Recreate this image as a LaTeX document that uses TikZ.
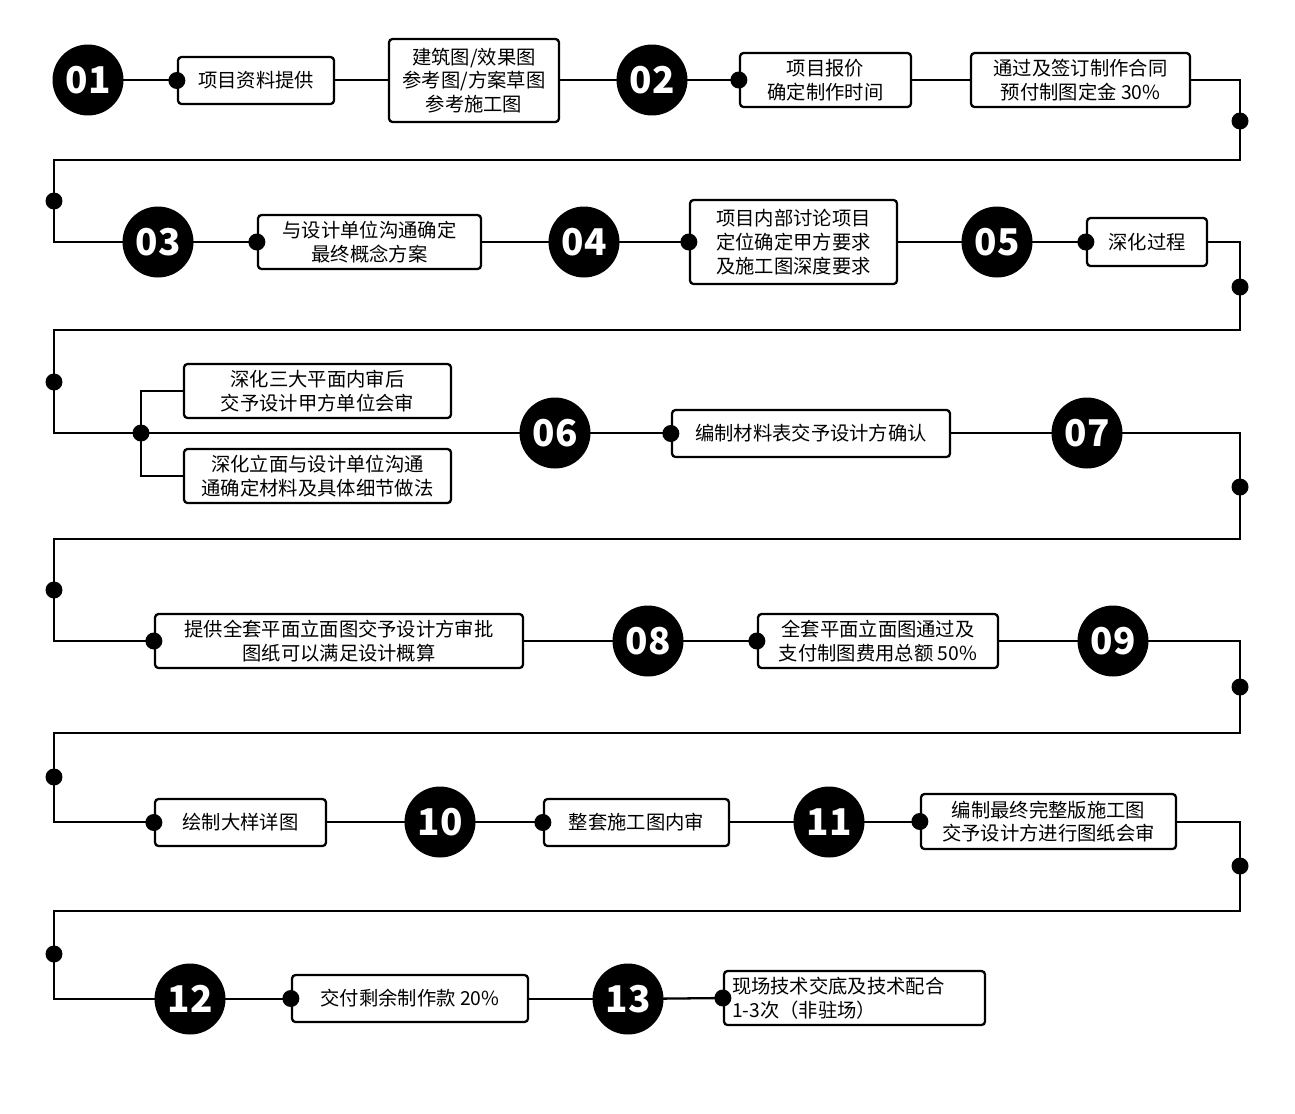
\documentclass[tikz,border=0pt]{standalone}
\usepackage{fontspec}
\setmainfont{Noto Sans CJK SC}
\usetikzlibrary{positioning, calc}
\tikzset{
  stepnum/.style={circle, fill=black, text=white, minimum size=1.42cm, inner sep=0pt, font=\fontsize{21}{21}\selectfont\bfseries},
  stepbox/.style={draw, fill=white, rounded corners=2pt, line width=1.3pt, align=center, inner sep=0pt, font=\fontsize{11}{13.5}\selectfont},
  knot/.style={circle, fill=black, minimum size=0.34cm, inner sep=0pt},
}
\newcommand{\bx}[6]{\node[stepbox, minimum width={(#4-#2)*0.02cm}, minimum height={(#5-#3)*0.02cm}] (#1) at ({(#2+#4)/2},{-(#3+#5)/2}) {#6};}
\begin{document}
\begin{tikzpicture}[x=0.02cm, y=0.02cm, line width=1.3pt]
  \useasboundingbox (0,0) rectangle (1295,-1113);
  % Linienzug
  \draw (88,-80) -- (1240,-80) -- (1240,-160) -- (54,-160) -- (54,-242) -- (1240,-242) -- (1240,-330) -- (54,-330) -- (54,-433)
    -- (1240,-433) -- (1240,-539) -- (54,-539) -- (54,-641) -- (1240,-641) -- (1240,-733) -- (54,-733) -- (54,-822)
    -- (1240,-822) -- (1240,-911) -- (54,-911) -- (54,-999) -- (628,-999);
  \draw (184,-391) -- (141,-391) -- (141,-476) -- (184,-476);
  % Kaesten
  \bx{b1}{178}{57}{334}{104}{项目资料提供}
  \bx{b2}{389}{39}{559}{122}{建筑图/效果图\\参考图/方案草图\\参考施工图}
  \bx{b3}{740}{53}{911}{107}{项目报价\\确定制作时间}
  \bx{b4}{971}{53}{1190}{107}{通过及签订制作合同\\预付制图定金 30\%}
  \bx{b5}{258}{215}{481}{269}{与设计单位沟通确定\\最终概念方案}
  \bx{b6}{690}{200}{897}{284}{项目内部讨论项目\\定位确定甲方要求\\及施工图深度要求}
  \bx{b7}{1087}{218}{1207}{266}{深化过程}
  \bx{b8}{184}{364}{451}{418}{深化三大平面内审后\\交予设计甲方单位会审}
  \bx{b9}{184}{449}{451}{503}{深化立面与设计单位沟通\\通确定材料及具体细节做法}
  \bx{b10}{672}{410}{950}{457}{编制材料表交予设计方确认}
  \bx{b11}{155}{614}{523}{668}{提供全套平面立面图交予设计方审批\\图纸可以满足设计概算}
  \bx{b12}{758}{614}{998}{668}{全套平面立面图通过及\\支付制图费用总额 50\%}
  \bx{b13}{155}{799}{326}{846}{绘制大样详图}
  \bx{b14}{544}{799}{729}{846}{整套施工图内审}
  \bx{b15}{921}{794}{1176}{849}{编制最终完整版施工图\\交予设计方进行图纸会审}
  \bx{b16}{292}{975}{528}{1022}{交付剩余制作款 20\%}
  \node[stepbox, minimum width={261*0.02cm}, minimum height={54*0.02cm}, align=left, text width={245*0.02cm}] (b17) at (854.5,-998) {现场技术交底及技术配合\\1-3次（非驻场）};
  \draw (b17.west) -- (628,-999);
  % Kreise
  \foreach \nr/\x/\y in {01/88/80, 02/652/80, 03/158/242, 04/584/242, 05/997/242, 06/555/433, 07/1087/433,
    08/648/641, 09/1113/641, 10/440/822, 11/829/822, 12/190/999, 13/628/999}
    \node[stepnum] (n\nr) at (\x,-\y) {\nr};
  % Punkte
  \foreach \b in {b1,b3,b5,b6,b7,b10,b11,b12,b13,b14,b15,b16,b17}
    \node[knot] at (\b.west) {};
  \foreach \x/\y in {1240/121, 54/201, 1240/287, 54/382, 141/433, 1240/487, 54/590, 1240/687, 54/777, 1240/866, 54/954}
    \node[knot] at (\x,-\y) {};
\end{tikzpicture}
\end{document}
